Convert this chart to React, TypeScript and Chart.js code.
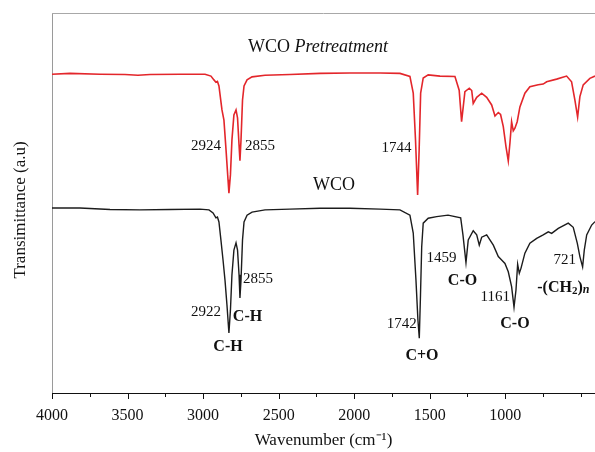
import React, { useEffect, useRef } from 'react';
import { Chart, registerables } from 'chart.js';

Chart.register(...registerables);

// Spectrum: WCO Pretreatment (red)
const pretreatWave = [4000, 3881, 3682, 3517, 3431, 3351, 3153, 2987, 2948, 2928, 2915, 2905, 2895, 2875, 2862, 2848, 2835, 2829, 2819, 2809, 2796, 2782, 2772, 2762, 2756, 2749, 2739, 2729, 2709, 2676, 2590, 2425, 2226, 2028, 1829, 1697, 1631, 1609, 1594, 1580, 1570, 1560, 1543, 1510, 1432, 1333, 1305, 1289, 1267, 1238, 1222, 1212, 1189, 1156, 1123, 1090, 1068, 1046, 1031, 1013, 995, 980, 969, 958, 947, 936, 921, 903, 870, 837, 782, 749, 726, 660, 594, 561, 539, 521, 506, 484, 440, 406];
const pretreatT = [83.9, 84.1, 83.9, 83.8, 83.6, 83.8, 83.9, 83.9, 83.4, 82.4, 81.8, 82.0, 80.8, 74.5, 71.8, 63.9, 56.1, 52.6, 57.4, 66.6, 73.2, 74.5, 72.4, 65.3, 61.1, 66.6, 77.1, 80.8, 82.4, 83.2, 83.6, 83.8, 84.1, 84.2, 84.2, 84.1, 83.3, 78.9, 66.6, 52.1, 63.9, 78.9, 82.9, 83.7, 83.4, 83.3, 79.7, 71.4, 79.3, 80.2, 79.6, 76.2, 77.8, 78.9, 77.8, 75.8, 72.9, 73.8, 73.3, 70.1, 64.8, 61.1, 65.8, 71.4, 69.0, 69.7, 71.4, 75.3, 78.9, 80.6, 81.1, 81.3, 81.9, 82.6, 83.4, 81.9, 77.1, 72.6, 78.0, 81.1, 82.8, 83.4];

// Spectrum: WCO (black)
const wcoWave = [4000, 3815, 3616, 3418, 3219, 3021, 2961, 2934, 2915, 2905, 2895, 2882, 2868, 2855, 2842, 2829, 2819, 2809, 2796, 2782, 2772, 2762, 2756, 2749, 2739, 2729, 2709, 2676, 2590, 2425, 2226, 2028, 1829, 1697, 1631, 1609, 1591, 1578, 1569, 1561, 1553, 1543, 1510, 1454, 1379, 1295, 1280, 1260, 1245, 1212, 1189, 1172, 1156, 1123, 1079, 1046, 1024, 1002, 980, 958, 942, 929, 918, 907, 896, 870, 837, 792, 749, 715, 693, 649, 583, 550, 523, 506, 488, 477, 461, 428, 406];
const wcoT = [48.7, 48.7, 48.3, 48.2, 48.3, 48.4, 48.2, 47.4, 46.1, 46.3, 45.0, 40.3, 35.0, 29.7, 23.2, 15.8, 21.8, 31.1, 37.6, 39.5, 37.6, 31.1, 25.0, 29.7, 40.3, 45.0, 46.8, 47.6, 48.2, 48.4, 48.6, 48.6, 48.4, 48.2, 46.8, 42.1, 29.7, 19.2, 14.4, 25.8, 38.5, 44.7, 46.0, 46.4, 46.8, 46.1, 41.6, 34.3, 40.3, 42.7, 41.6, 38.9, 41.0, 41.6, 38.9, 35.9, 35.0, 34.1, 31.9, 28.0, 22.6, 27.1, 33.9, 31.5, 32.8, 36.8, 39.4, 40.7, 41.6, 42.4, 42.0, 43.3, 44.7, 43.6, 39.4, 35.9, 33.2, 37.6, 41.6, 44.2, 45.1];

const majorTicks = [4000, 3500, 3000, 2500, 2000, 1500, 1000];
const minorTicks = [3750, 3250, 2750, 2250, 1750, 1250, 750, 500];

const X_MIN = 406;
const X_MAX = 4000;

type Ann = { text: string; wave: number; t: number; align: CanvasTextAlign; kind: 'num' | 'bond' };
const annotations: Ann[] = [
  { text: '2924', wave: 2882, t: 65.0, align: 'right', kind: 'num' },
  { text: '2855', wave: 2723, t: 65.0, align: 'left', kind: 'num' },
  { text: '1744', wave: 1620, t: 64.5, align: 'right', kind: 'num' },
  { text: '2922', wave: 2882, t: 21.4, align: 'right', kind: 'num' },
  { text: '2855', wave: 2736, t: 30.0, align: 'left', kind: 'num' },
  { text: 'C-H', wave: 2706, t: 20.1, align: 'center', kind: 'bond' },
  { text: 'C-H', wave: 2835, t: 12.2, align: 'center', kind: 'bond' },
  { text: '1742', wave: 1586, t: 18.2, align: 'right', kind: 'num' },
  { text: 'C+O', wave: 1551, t: 9.7, align: 'center', kind: 'bond' },
  { text: '1459', wave: 1322, t: 35.4, align: 'right', kind: 'num' },
  { text: 'C-O', wave: 1283, t: 29.6, align: 'center', kind: 'bond' },
  { text: '1161', wave: 969, t: 25.3, align: 'right', kind: 'num' },
  { text: 'C-O', wave: 936, t: 18.2, align: 'center', kind: 'bond' },
  { text: '721', wave: 532, t: 35.0, align: 'right', kind: 'num' },
];

const SERIF = '"Liberation Serif", "Times New Roman", serif';

const decorPlugin = {
  id: 'decor',
  afterDraw(chart: any) {
    const { ctx, chartArea } = chart;
    const { left, right, top, bottom } = chartArea;
    const x = chart.scales.x;
    const y = chart.scales.y;
    ctx.save();
    // top frame line
    ctx.strokeStyle = '#a8a8a8';
    ctx.lineWidth = 1;
    ctx.beginPath();
    ctx.moveTo(left, top + 0.5);
    ctx.lineTo(right, top + 0.5);
    ctx.stroke();
    // x ticks
    ctx.strokeStyle = '#111';
    const tick = (v: number, len: number) => {
      const px = Math.round(x.getPixelForValue(v)) + 0.5;
      ctx.beginPath();
      ctx.moveTo(px, bottom);
      ctx.lineTo(px, bottom + len);
      ctx.stroke();
    };
    majorTicks.forEach((v) => tick(v, 6));
    minorTicks.forEach((v) => tick(v, 4));

    // y title
    ctx.save();
    ctx.fillStyle = '#111';
    ctx.font = `17px ${SERIF}`;
    ctx.textAlign = 'center';
    ctx.textBaseline = 'middle';
    ctx.translate(21, (top + bottom) / 2 + 7);
    ctx.rotate(-Math.PI / 2);
    ctx.fillText('Transimittance (a.u)', 0, 0);
    ctx.restore();

    // series titles
    ctx.fillStyle = '#111';
    ctx.textBaseline = 'middle';
    ctx.textAlign = 'left';
    ctx.font = `18px ${SERIF}`;
    const tx = x.getPixelForValue(2703);
    const ty = y.getPixelForValue(91.1);
    ctx.fillText('WCO ', tx, ty);
    const w1 = ctx.measureText('WCO ').width;
    ctx.font = `italic 18px ${SERIF}`;
    ctx.fillText('Pretreatment', tx + w1, ty);

    ctx.font = `18px ${SERIF}`;
    ctx.textAlign = 'center';
    ctx.fillText('WCO', x.getPixelForValue(2134), y.getPixelForValue(54.7));

    // peak annotations
    annotations.forEach((a) => {
      ctx.font = a.kind === 'num' ? `15px ${SERIF}` : `bold 16px ${SERIF}`;
      ctx.textAlign = a.align;
      ctx.fillText(a.text, x.getPixelForValue(a.wave), y.getPixelForValue(a.t));
    });

    // -(CH2)n
    let cx = x.getPixelForValue(788);
    const cy = y.getPixelForValue(27.8);
    ctx.textAlign = 'left';
    const parts: [string, string, number][] = [
      ['-(CH', `bold 16px ${SERIF}`, 0],
      ['2', `bold 11px ${SERIF}`, 4],
      [')', `bold 16px ${SERIF}`, 0],
      ['n', `bold italic 12px ${SERIF}`, 3],
    ];
    parts.forEach(([t, f, dy]) => {
      ctx.font = f;
      ctx.fillText(t, cx, cy + dy);
      cx += ctx.measureText(t).width;
    });
    ctx.restore();
  },
};

export default function App() {
  const ref = useRef<HTMLCanvasElement | null>(null);
  useEffect(() => {
    if (!ref.current) return;
    Chart.defaults.font.family = SERIF;
    const chart = new Chart(ref.current, {
      type: 'line',
      data: {
        datasets: [
          {
            label: 'WCO Pretreatment',
            data: pretreatWave.map((w, i) => ({ x: w, y: pretreatT[i] })),
            borderColor: '#e3262b',
            borderWidth: 1.6,
            pointRadius: 0,
            tension: 0,
          },
          {
            label: 'WCO',
            data: wcoWave.map((w, i) => ({ x: w, y: wcoT[i] })),
            borderColor: '#1c1c1c',
            borderWidth: 1.4,
            pointRadius: 0,
            tension: 0,
          },
        ],
      },
      options: {
        animation: false,
        responsive: false,
        layout: { padding: { top: 13, left: 0, right: 0, bottom: 0 } },
        plugins: { legend: { display: false }, tooltip: { enabled: false } },
        scales: {
          x: {
            type: 'linear',
            min: X_MIN,
            max: X_MAX,
            reverse: true,
            afterBuildTicks: (s: any) => {
              s.ticks = majorTicks.map((v) => ({ value: v }));
            },
            ticks: {
              autoSkip: false,
              maxRotation: 0,
              color: '#111',
              font: { size: 16 },
              padding: 13,
              callback: (v: any) => String(v),
            },
            grid: { display: false, drawTicks: false },
            border: { display: true, color: '#111', width: 1 },
            title: {
              display: true,
              text: 'Wavenumber (cm⁻¹)',
              color: '#111',
              font: { size: 17 },
              padding: { top: 0, bottom: 1 },
            },
            afterFit: (s: any) => {
              s.height = 59;
              s.paddingLeft = 0;
              s.paddingRight = 0;
            },
          },
          y: {
            min: 0,
            max: 100,
            ticks: { display: false },
            grid: { display: false },
            border: { display: true, color: '#9a9a9a', width: 1 },
            afterFit: (s: any) => {
              s.width = 52;
            },
          },
        },
      },
      plugins: [decorPlugin],
    });
    return () => chart.destroy();
  }, []);
  return (
    <div style={{ position: 'fixed', left: 0, top: 0, width: 595, height: 452, background: '#fff' }}>
      <canvas ref={ref} width={595} height={452} />
    </div>
  );
}
